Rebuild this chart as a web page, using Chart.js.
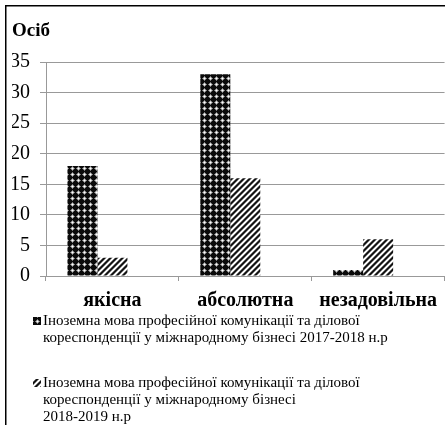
<!DOCTYPE html>
<html>
<head>
<meta charset="utf-8">
<script src="https://cdn.jsdelivr.net/npm/chart.js@4.4.0/dist/chart.umd.min.js"></script>
<style>
  html, body { margin: 0; padding: 0; background: #fff; }
  #wrap { position: relative; width: 445px; height: 425px; overflow: hidden; }
  #myChart { position: absolute; left: 0; top: 0; }
  #legend { position: absolute; left: 33px; top: 312px; font: 15px 'Liberation Serif', 'Times New Roman', serif; color: #000; line-height: 17px; }
  .item { display: flex; align-items: flex-start; }
  .item + .item { margin-top: 28px; }
  .sw { width: 8px; height: 8px; margin: 5px 2px 0 0; flex: none; }
</style>
</head>
<body>
<div id="wrap">
  <canvas id="myChart" width="445" height="425"></canvas>
  <div id="legend"></div>
</div>
<script>
const SERIF = "'Liberation Serif', 'Times New Roman', serif";

const categories = ['якісна', 'абсолютна', 'незадовільна'];
const values2017 = [18, 33, 1];
const values2018 = [3, 16, 6];
// the source chart keeps a third, empty slot in every group
const emptySlot = [null, null, null];
const yTicks = [0, 5, 10, 15, 20, 25, 30, 35];
const yTitle = 'Осіб';
const label2017 = ['Іноземна мова професійної комунікації та ділової', 'кореспонденції у міжнародному бізнесі 2017-2018 н.р'];
const label2018 = ['Іноземна мова професійної комунікації та ділової', 'кореспонденції у міжнародному бізнесі', '2018-2019 н.р'];

const container = document.getElementById('myChart');
const legendBox = document.getElementById('legend');

// small pixel tiles imitating the office fill patterns
const makeTile = (kind) => {
    const s = 6;
    const c = document.createElement('canvas');
    c.width = c.height = s;
    const g = c.getContext('2d');
    const img = g.createImageData(s, s);
    for (let y = 0; y < s; y++) {
        for (let x = 0; x < s; x++) {
            let v;
            if (kind === 'dots') {
                const dx = Math.min(x, s - x), dy = Math.min(y, s - y);
                const d = dx + dy;
                v = d === 0 ? 255 : d === 1 ? 205 : d === 2 ? 120 : 10;
            } else {
                const d = (x + y) % s;
                v = d === 0 ? 120 : (d === 1 || d === 2) ? 20 : d === 3 ? 130 : 255;
            }
            const i = (y * s + x) * 4;
            img.data[i] = img.data[i + 1] = img.data[i + 2] = v;
            img.data[i + 3] = 255;
        }
    }
    g.putImageData(img, 0, 0);
    return c;
};
const dotsTile = makeTile('dots');
const hatchTile = makeTile('hatch');
const ctx = container.getContext('2d');
const dotsFill = ctx.createPattern(dotsTile, 'repeat');
const hatchFill = ctx.createPattern(hatchTile, 'repeat');

const framePlugin = {
    id: 'frame',
    beforeDraw: (chart) => {
        const c = chart.ctx;
        c.save();
        c.fillStyle = '#fff';
        c.fillRect(0, 0, chart.width, chart.height);
        c.fillStyle = '#000';
        c.fillRect(5, 5, chart.width - 5, 1.5);
        c.fillRect(5, 5, 1.5, chart.height - 5);
        c.restore();
    }
};

const htmlLegend = {
    id: 'htmlLegend',
    afterUpdate: (chart) => {
        legendBox.innerHTML = '';
        chart.data.datasets.forEach((ds) => {
            if (!ds.legendText) return;
            const item = document.createElement('div');
            item.className = 'item';
            const sw = document.createElement('canvas');
            sw.className = 'sw';
            sw.width = sw.height = 8;
            const sg = sw.getContext('2d');
            sg.translate(-2, -2);
            sg.fillStyle = sg.createPattern(ds.tile, 'repeat');
            sg.fillRect(0, 0, 12, 12);
            const txt = document.createElement('div');
            ds.legendText.forEach((line, i) => {
                if (i) txt.appendChild(document.createElement('br'));
                txt.appendChild(document.createTextNode(line));
            });
            item.appendChild(sw);
            item.appendChild(txt);
            legendBox.appendChild(item);
        });
    }
};

const barCommon = { barPercentage: 1, categoryPercentage: 0.677, borderWidth: 0 };

const chart = new Chart(container, {
    type: 'bar',
    data: {
        labels: categories,
        datasets: [
            { ...barCommon, label: label2017.join(' '), legendText: label2017, tile: dotsTile, data: values2017, backgroundColor: dotsFill },
            { ...barCommon, label: label2018.join(' '), legendText: label2018, tile: hatchTile, data: values2018, backgroundColor: hatchFill },
            { ...barCommon, label: '', data: emptySlot, backgroundColor: 'rgba(0,0,0,0)' }
        ]
    },
    options: {
        responsive: false,
        animation: false,
        layout: { padding: { left: 12, right: 0, top: 0, bottom: 113 } },
        plugins: {
            legend: { display: false },
            tooltip: { enabled: false },
            title: {
                display: true,
                text: yTitle,
                align: 'start',
                color: '#000',
                font: { family: SERIF, size: 19, weight: 'bold', lineHeight: 1.2 },
                padding: { top: 20, bottom: 19.2 }
            }
        },
        scales: {
            x: {
                ticks: { color: '#000', font: { family: SERIF, size: 20, weight: 'bold' }, padding: 8, maxRotation: 0, autoSkip: false },
                grid: { drawOnChartArea: false, color: '#999', tickLength: 5, offset: true },
                border: { color: '#999' },
                afterFit: (s) => { s.height = 36; }
            },
            y: {
                min: yTicks[0],
                max: yTicks[yTicks.length - 1],
                ticks: { stepSize: yTicks[1] - yTicks[0], color: '#000', font: { family: SERIF, size: 20 }, padding: 10 },
                grid: { color: '#999', tickLength: 6 },
                border: { color: '#999' },
                afterFit: (s) => { s.width = 34; }
            }
        }
    },
    plugins: [framePlugin, htmlLegend]
});
</script>
</body>
</html>
